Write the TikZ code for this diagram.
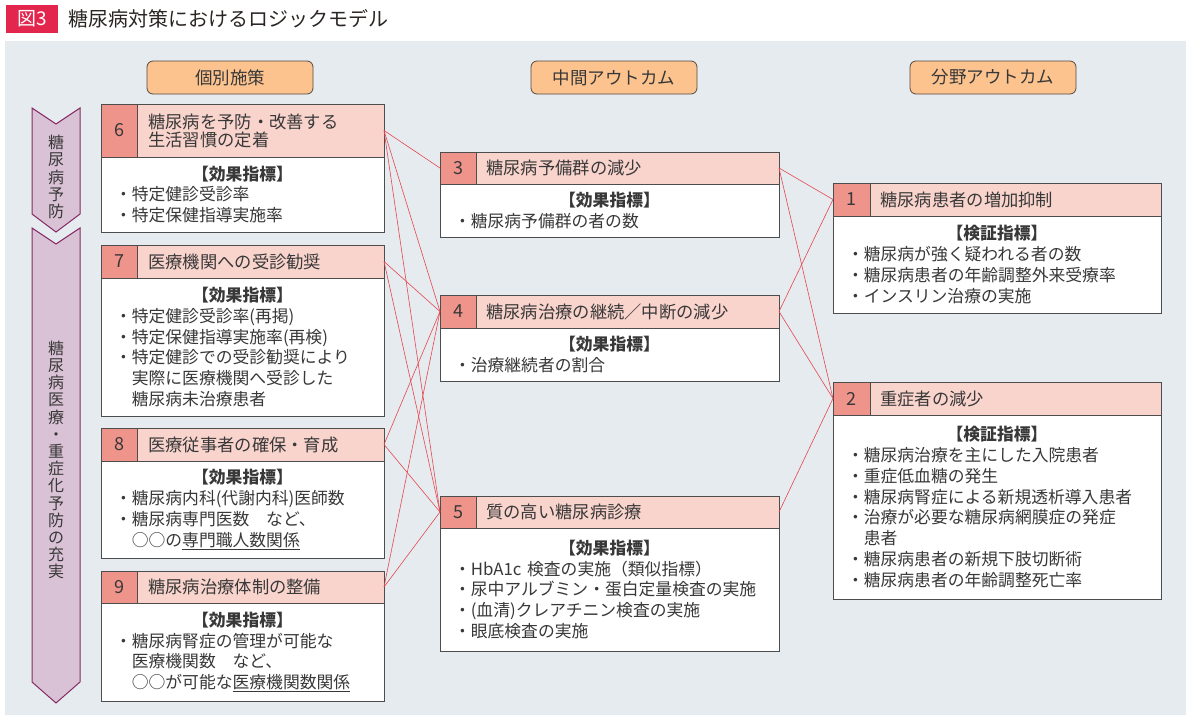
\documentclass[tikz,border=0pt]{standalone}
\usepackage{fontspec}
\setmainfont{Noto Sans CJK JP}
\usepackage{xcolor}
\usetikzlibrary{positioning}

\definecolor{bgfill}{HTML}{E6EBF0}
\definecolor{titlered}{HTML}{E2264D}
\definecolor{titletext}{HTML}{2A2522}
\definecolor{pillfill}{HTML}{FCC38F}
\definecolor{pillline}{HTML}{55493F}
\definecolor{hdrpink}{HTML}{F9D4CD}
\definecolor{numred}{HTML}{EF948B}
\definecolor{boxline}{HTML}{4D4D4D}
\definecolor{linkred}{HTML}{E5474E}
\definecolor{chevfill}{HTML}{D9C2D5}
\definecolor{chevline}{HTML}{862A63}
\definecolor{txt}{HTML}{383838}

\begin{document}
\begin{tikzpicture}[
  x=1pt, y=-1pt,
  font=\fontsize{16.8}{20.8}\selectfont,
  box/.style={draw=boxline, line width=0.8pt, inner sep=0pt, outer sep=0pt},
  hdr/.style={box, fill=hdrpink, minimum width=#1, anchor=north west},
  numcell/.style={box, fill=numred, minimum width=36pt, anchor=north west,
    text=txt, font=\fontsize{18}{18}\selectfont},
  ttl/.style={inner sep=0pt, align=left, text=txt, font=\fontsize{17.3}{18}\selectfont},
  body/.style={box, fill=white, text width=#1, inner xsep=14pt, align=left, text=txt},
  pill/.style={draw=pillline, fill=pillfill, rounded corners=6pt, line width=0.8pt,
    minimum width=166pt, minimum height=33pt, text=txt, font=\fontsize{17.5}{17.5}\selectfont},
  link/.style={draw=linkred, line width=0.6pt},
  chev/.style={fill=chevfill, draw=chevline, line width=1pt},
  vtext/.style={align=center, inner sep=0pt, text=txt, font=\fontsize{16}{17.2}\selectfont}
]
\useasboundingbox (0,0) rectangle (1192,721);

% ===== Title and background =====
\fill[bgfill] (5,41) rectangle (1186,715);
\node[fill=titlered, text=white, minimum width=52pt, minimum height=28pt, inner sep=0pt,
  font=\fontsize{19}{19}\selectfont] (fig) at (32,19) {図3};
\node[anchor=west, inner sep=0pt, text=titletext, font=\fontsize{20}{20}\selectfont]
  (title) at (68,19) {糖尿病対策におけるロジックモデル};

% ===== Column headings =====
\node[pill] (p1) at (230,77.5) {個別施策};
\node[pill] (p2) at (614,77.5) {中間アウトカム};
\node[pill] (p3) at (993,77.5) {分野アウトカム};

% ===== Side chevrons =====
\draw[chev] (32,108) -- (56,124) -- (80,108) -- (80,214) -- (56,232) -- (32,214) -- cycle;
\draw[chev] (32,228) -- (56,244) -- (80,228) -- (80,682) -- (56,703) -- (32,682) -- cycle;
\node[vtext] (v1) at (56,177) {糖\\尿\\病\\予\\防};
\node[vtext] (v2) at (56,460) {糖\\尿\\病\\医\\療\\・\\重\\症\\化\\予\\防\\の\\充\\実};

% ===== Individual measures =====
\node[hdr=283pt, minimum height=53pt] (h6) at (101,104) {};
\node[numcell, minimum height=53pt] (n6) at (h6.north west) {6};
\node[ttl, right=11pt of n6] (t6) {糖尿病を予防・改善する\\生活習慣の定着};
\node[body=255pt, minimum height=75pt, below=0pt of h6] (b6)
  {\makebox[\linewidth]{\bfseries【効果指標】}\\
   ・特定健診受診率\\
   ・特定保健指導実施率};

\node[hdr=283pt, minimum height=33pt] (h7) at (101,245) {};
\node[numcell, minimum height=33pt] (n7) at (h7.north west) {7};
\node[ttl, right=11pt of n7] (t7) {医療機関への受診勧奨};
\node[body=255pt, minimum height=138pt, below=0pt of h7] (b7)
  {\makebox[\linewidth]{\bfseries【効果指標】}\\
   ・特定健診受診率(再掲)\\
   ・特定保健指導実施率(再検)\\
   ・特定健診での受診勧奨により\\
   \hspace*{1em}実際に医療機関へ受診した\\
   \hspace*{1em}糖尿病未治療患者};

\node[hdr=283pt, minimum height=33pt] (h8) at (101,428) {};
\node[numcell, minimum height=33pt] (n8) at (h8.north west) {8};
\node[ttl, right=11pt of n8] (t8) {医療従事者の確保・育成};
\node[body=255pt, minimum height=97pt, below=0pt of h8] (b8)
  {\makebox[\linewidth]{\bfseries【効果指標】}\\
   ・糖尿病内科(代謝内科)医師数\\
   ・糖尿病専門医数　など、\\
   \hspace*{1em}○○の\underline{専門職人数関係}};

\node[hdr=283pt, minimum height=32pt] (h9) at (101,571) {};
\node[numcell, minimum height=32pt] (n9) at (h9.north west) {9};
\node[ttl, right=11pt of n9] (t9) {糖尿病治療体制の整備};
\node[body=255pt, minimum height=98pt, below=0pt of h9] (b9)
  {\makebox[\linewidth]{\bfseries【効果指標】}\\
   ・糖尿病腎症の管理が可能な\\
   \hspace*{1em}医療機関数　など、\\
   \hspace*{1em}○○が可能な\underline{医療機関数関係}};

% ===== Intermediate outcomes =====
\node[hdr=339pt, minimum height=32pt] (h3) at (440,152) {};
\node[numcell, minimum height=32pt] (n3) at (h3.north west) {3};
\node[ttl, right=10pt of n3] (t3) {糖尿病予備群の減少};
\node[body=311pt, minimum height=53pt, below=0pt of h3] (b3)
  {\makebox[\linewidth]{\bfseries【効果指標】}\\
   ・糖尿病予備群の者の数};

\node[hdr=339pt, minimum height=33pt] (h4) at (440,295) {};
\node[numcell, minimum height=33pt] (n4) at (h4.north west) {4};
\node[ttl, right=10pt of n4] (t4) {糖尿病治療の継続／中断の減少};
\node[body=311pt, minimum height=53pt, below=0pt of h4] (b4)
  {\makebox[\linewidth]{\bfseries【効果指標】}\\
   ・治療継続者の割合};

\node[hdr=339pt, minimum height=32pt] (h5) at (440,496) {};
\node[numcell, minimum height=32pt] (n5) at (h5.north west) {5};
\node[ttl, right=10pt of n5] (t5) {質の高い糖尿病診療};
\node[body=311pt, minimum height=123pt, below=0pt of h5] (b5)
  {\makebox[\linewidth]{\bfseries【効果指標】}\\
   ・HbA1c 検査の実施（類似指標）\\
   ・尿中アルブミン・蛋白定量検査の実施\\
   ・(血清)クレアチニン検査の実施\\
   ・眼底検査の実施};

% ===== Field outcomes =====
\node[hdr=328pt, minimum height=33pt] (h1) at (833,183) {};
\node[numcell, minimum height=33pt, minimum width=37pt] (n1) at (h1.north west) {1};
\node[ttl, right=10pt of n1] (t1) {糖尿病患者の増加抑制};
\node[body=300pt, minimum height=97pt, below=0pt of h1] (b1)
  {\makebox[\linewidth]{\bfseries【検証指標】}\\
   ・糖尿病が強く疑われる者の数\\
   ・糖尿病患者の年齢調整外来受療率\\
   ・インスリン治療の実施};

\node[hdr=328pt, minimum height=33pt] (h2) at (833,382) {};
\node[numcell, minimum height=33pt, minimum width=37pt] (n2) at (h2.north west) {2};
\node[ttl, right=10pt of n2] (t2) {重症者の減少};
\node[body=300pt, minimum height=184pt, below=0pt of h2] (b2)
  {\makebox[\linewidth]{\bfseries【検証指標】}\\
   ・糖尿病治療を主にした入院患者\\
   ・重症低血糖の発生\\
   ・糖尿病腎症による新規透析導入患者\\
   ・治療が必要な糖尿病網膜症の発症\\
   \hspace*{1em}患者\\
   ・糖尿病患者の新規下肢切断術\\
   ・糖尿病患者の年齢調整死亡率};

% ===== Links =====
\foreach \a/\b in {h6/h3, h6/h4, h6/h5, h7/h4, h7/h5, h8/h4, h8/h5, h9/h4, h9/h5,
                   h3/h1, h3/h2, h4/h1, h4/h2, h5/h2}
  \draw[link] (\a.east) -- (\b.west);

\end{tikzpicture}
\end{document}
